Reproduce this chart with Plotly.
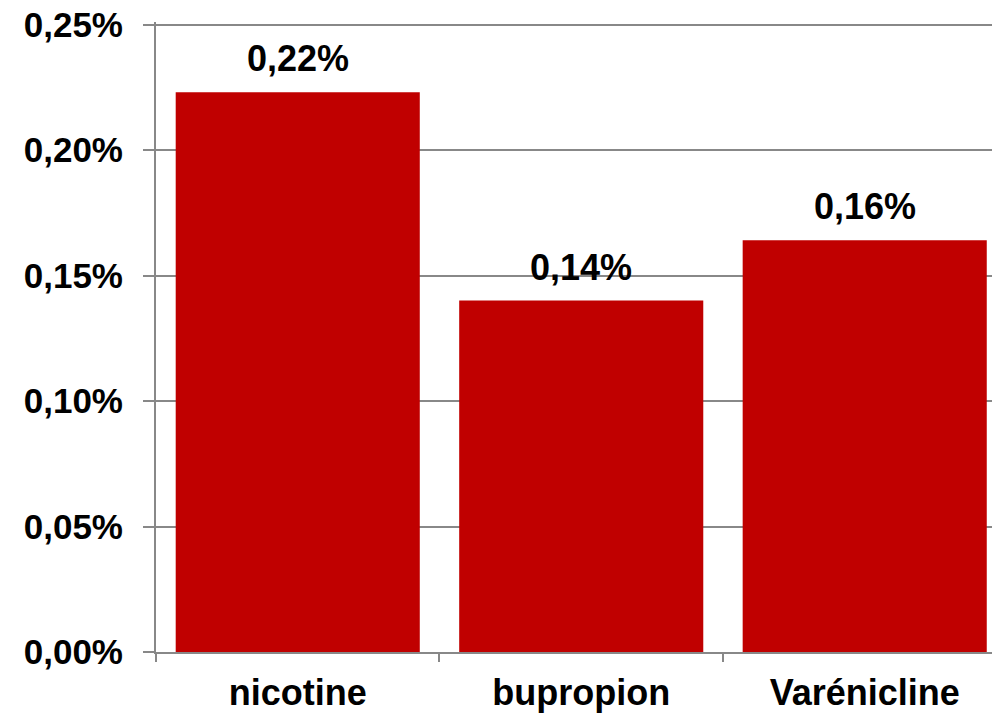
import plotly.graph_objects as go

categories = ["nicotine", "bupropion", "Varénicline"]
values = [0.00223, 0.00140, 0.00164]
label_texts = ["0,22%", "0,14%", "0,16%"]
y_tick_values = [0, 0.0005, 0.0010, 0.0015, 0.0020, 0.0025]

FONT = "Liberation Sans, Arial, sans-serif"
GRID = "#888888"

fig = go.Figure()
fig.add_trace(go.Bar(
    x=categories, y=values,
    marker=dict(color="#C00000", line=dict(width=0)),
    hoverinfo="skip",
))

for c, v, t in zip(categories, values, label_texts):
    fig.add_annotation(
        x=c, y=v, text=t, showarrow=False,
        xanchor="center", yanchor="bottom", yshift=11,
        font=dict(family=FONT, size=36, color="black", weight="bold"),
    )

fig.update_layout(
    width=992, height=716,
    margin=dict(l=156, r=0, t=22, b=64, pad=0),
    paper_bgcolor="white", plot_bgcolor="white",
    separators=", ",
    bargap=0.139,
    showlegend=False,
    font=dict(family=FONT, color="black"),
)

fig.update_xaxes(
    type="category",
    range=[-0.5, 2.449],
    automargin=False,
    showline=True, linecolor=GRID, linewidth=2,
    ticks="outside", tickson="boundaries", ticklen=8, tickwidth=2, tickcolor=GRID,
    ticklabelstandoff=8,
    showgrid=False,
    tickfont=dict(family=FONT, size=36, color="black", weight="bold"),
)

fig.update_yaxes(
    range=[0, 0.00251],
    tickvals=y_tick_values,
    tickformat=".2%",
    automargin=False,
    ticklabeloverflow="allow",
    showline=True, linecolor=GRID, linewidth=2,
    ticks="outside", ticklen=11, tickwidth=2, tickcolor=GRID,
    ticklabelstandoff=13,
    showgrid=True, gridcolor=GRID, gridwidth=1.5,
    zeroline=False,
    tickfont=dict(family=FONT, size=35, color="black", weight="bold"),
)

fig.write_html(
    "out.html",
    config={"displayModeBar": False},
    post_script="document.body.style.margin='0';",
)
